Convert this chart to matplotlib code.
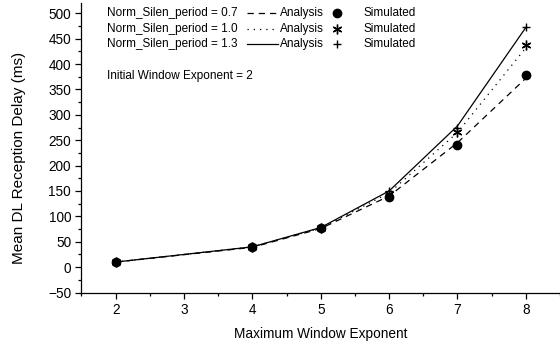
import numpy as np
import matplotlib.pyplot as plt
from matplotlib.lines import Line2D
from matplotlib.ticker import MultipleLocator

plt.rcParams['font.family'] = ['Liberation Sans', 'DejaVu Sans']

# data
x = [2, 4, 5, 6, 7, 8]
periods = ['0.7', '1.0', '1.3']
ana_07 = [10, 39, 76, 140, 245, 372]
sim_07 = [10, 39, 77, 139, 241, 378]
ana_10 = [10, 40, 77, 146, 265, 432]
sim_10 = [10, 39, 77, 145, 266, 437]
ana_13 = [10, 40, 78, 150, 278, 472]
sim_13 = [10, 40, 78, 149, 274, 472]

analysis = [ana_07, ana_10, ana_13]
simulated = [sim_07, sim_10, sim_13]
styles = [(0, (5, 4)), (0, (1, 4)), '-']
markers = ['o', (6, 2, 0), '+']
msizes = [6, 7, 6]

fig = plt.figure(figsize=(5.6, 3.47), dpi=100)
ax = fig.add_axes([0.1455, 0.157, 0.8545, 0.834])

for a, s, ls, m, ms in zip(analysis, simulated, styles, markers, msizes):
    ax.plot(x, a, color='black', linestyle=ls, linewidth=0.9)
    ax.plot(x, s, color='black', linestyle='none', marker=m, markersize=ms,
            markeredgewidth=1.0)

ax.set_xlim(1.5, 8.5)
ax.set_ylim(-50, 520)
ax.set_xticks([2, 3, 4, 5, 6, 7, 8])
ax.set_yticks(np.arange(-50, 501, 50))
ax.xaxis.set_minor_locator(MultipleLocator(0.5))
ax.yaxis.set_minor_locator(MultipleLocator(25))
ax.tick_params(which='major', direction='out', length=4, width=0.9, labelsize=9.8)
ax.tick_params(which='minor', direction='out', length=2.5, width=0.9)
for sp in ['top', 'right']:
    ax.spines[sp].set_visible(False)
for sp in ['left', 'bottom']:
    ax.spines[sp].set_linewidth(0.9)

ax.set_xlabel('Maximum Window Exponent', fontsize=9.8, labelpad=7)
ax.set_ylabel('Mean DL Reception Delay (ms)', fontsize=11)
ax.yaxis.set_label_coords(-0.116, 0.465)

# hand-made legend
rows_y = [0.965, 0.910, 0.858]
for yy, p, ls, m, ms in zip(rows_y, periods, styles, markers, msizes):
    ax.text(0.053, yy, 'Norm_Silen_period = ' + p, transform=ax.transAxes,
            fontsize=8.5, va='center')
    ax.add_line(Line2D([0.346, 0.411], [yy, yy], transform=ax.transAxes,
                       color='black', linestyle=ls, linewidth=0.9))
    ax.text(0.415, yy, 'Analysis', transform=ax.transAxes, fontsize=8.5, va='center')
    ax.add_line(Line2D([0.534], [yy], transform=ax.transAxes, color='black',
                       marker=m, markersize=ms, markeredgewidth=1.0))
    ax.text(0.589, yy, 'Simulated', transform=ax.transAxes, fontsize=8.5, va='center')

ax.text(0.053, 0.748, 'Initial Window Exponent = 2', transform=ax.transAxes,
        fontsize=8.5, va='center')

fig.savefig('out.png', dpi=100)
